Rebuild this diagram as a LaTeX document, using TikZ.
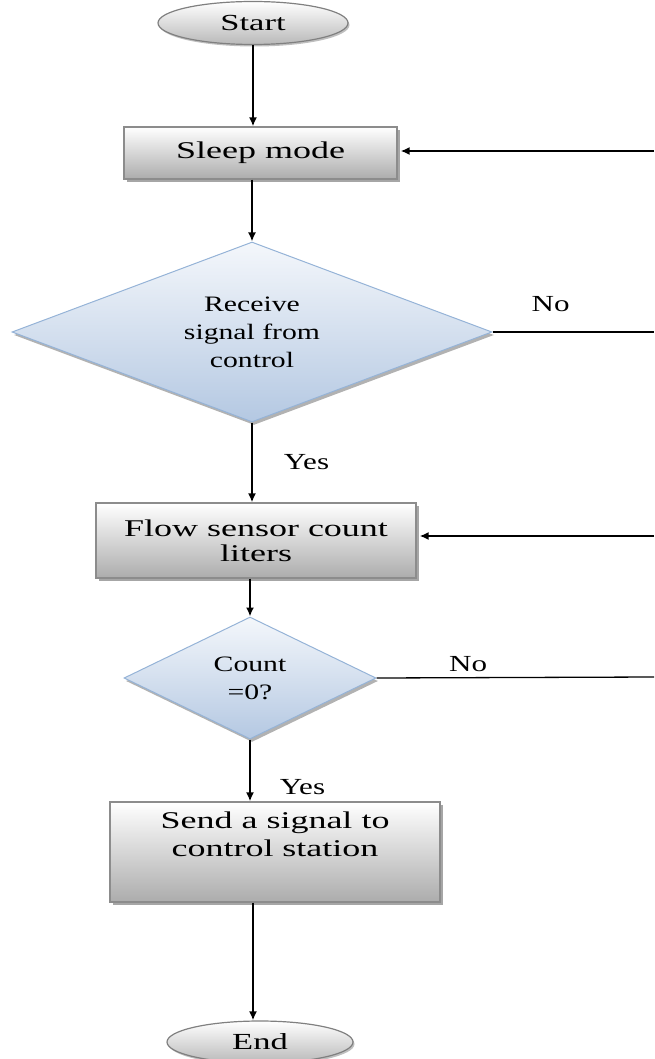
\documentclass[tikz,border=0pt]{standalone}
\usepackage{fontspec}
\setmainfont{Liberation Serif}[FakeStretch=1.35]
\newfontfamily\boxfont{Liberation Serif}[FakeStretch=1.5]
\usepackage{tikz}
\usetikzlibrary{shapes.geometric}
\usetikzlibrary{arrows.meta}
\usetikzlibrary{shadows}
\usetikzlibrary{positioning}

\definecolor{decborder}{HTML}{95B3D7}
\definecolor{decbottom}{HTML}{B4C8E2}
\definecolor{dectop}{HTML}{F4F7FB}

\begin{document}
\begin{tikzpicture}[x=1pt, y=-1pt,
    every node/.style={font=\fontsize{24}{28}\selectfont},
    proc/.style={rectangle, draw=gray!90, line width=1.2pt, top color=white, bottom color=gray!65,
      inner sep=0pt, align=center, font=\boxfont\fontsize{24}{28}\selectfont,
      drop shadow={shadow xshift=3pt, shadow yshift=-3pt, fill=gray!70, opacity=1}},
    dec/.style={diamond, draw=decborder, line width=1pt, top color=dectop, bottom color=decbottom,
      inner sep=0pt, align=center, font=\fontsize{22}{28}\selectfont,
      drop shadow={shadow xshift=2pt, shadow yshift=-3pt, fill=gray!60, opacity=1}},
    term/.style={ellipse, draw=gray, line width=1.2pt, top color=white, bottom color=gray!55,
      inner sep=0pt, font=\boxfont\fontsize{23}{26}\selectfont,
      drop shadow={shadow xshift=1.5pt, shadow yshift=-2pt, fill=gray!50, opacity=1}},
    lbl/.style={inner sep=0pt, font=\fontsize{23}{26}\selectfont},
    arr/.style={line width=1.8pt, -{Latex[length=9pt, width=8pt]}}]

  \useasboundingbox (0,0) rectangle (654,1059);

  \node[term, minimum width=190pt, minimum height=43pt] (start) at (253, 23) {Start};

  \node[proc, minimum width=273pt, minimum height=52pt] (sleep) at (260.5, 153) {Sleep mode};

  \node[dec, aspect=2.67, minimum width=480pt, minimum height=180pt] (recv) at (252, 332) {Receive\\signal from\\control};

  \node[proc, minimum width=320pt, minimum height=75pt, font=\boxfont\fontsize{24}{25}\selectfont] (flow) at (256, 540.5) {Flow sensor count\\liters};

  \node[dec, aspect=2.07, minimum width=252pt, minimum height=122pt] (count) at (250, 678) {Count\\=0?};

  \node[proc, minimum width=330pt, minimum height=100pt] (send) at (275, 852) {Send a signal to\\control station\\\strut};

  \node[term, minimum width=186pt, minimum height=42pt] (end) at (260, 1042) {End};

  % loop ends at the right border
  \coordinate (e1) at (654, 151);
  \coordinate (e2) at (654, 332);
  \coordinate (e3) at (654, 536);
  \coordinate (e4) at (654, 677);

  \draw[arr] (start.south) -- (start |- sleep.north);
  \draw[arr] (recv |- sleep.south) -- (recv.north);
  \draw[arr] (recv.south) -- node[lbl, right=31pt] (yes1) {Yes} (recv |- flow.north);
  \draw[arr] (count |- flow.south) -- (count.north);
  \draw[arr] (count.south) -- node[lbl, pos=0.77, right=29pt] (yes2) {Yes} (count |- send.north);
  \draw[arr] (start |- send.south) -- (start |- end.north);

  \draw[arr] (e1) -- ([xshift=3pt]e1 -| sleep.east);
  \draw[line width=1.3pt] (recv.east) -- node[lbl, pos=0.36, above=20pt] (no1) {No} (e2);
  \draw[arr] (e3) -- ([xshift=3pt]e3 -| flow.east);
  \draw[line width=1.3pt] (count.east) -- node[lbl, pos=0.33, above=5pt] (no2) {No} (e4);
\end{tikzpicture}
\end{document}
